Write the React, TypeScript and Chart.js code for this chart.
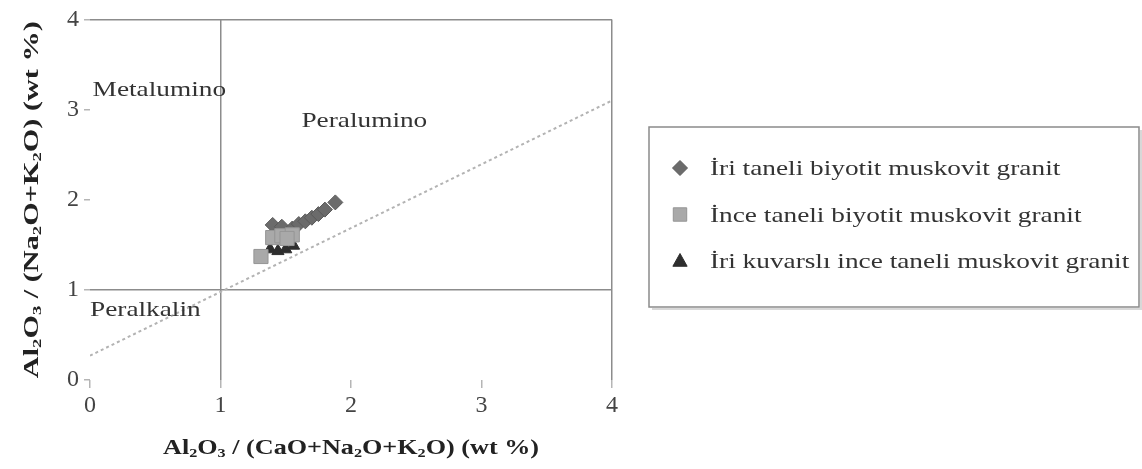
import React, { useEffect, useRef } from "react";
import { Chart, registerables } from "chart.js";

Chart.register(...registerables);

// ---- data ----
const diamondX = [1.40, 1.47, 1.55, 1.60, 1.65, 1.70, 1.75, 1.80, 1.88];
const diamondY = [1.72, 1.70, 1.68, 1.73, 1.76, 1.80, 1.84, 1.89, 1.97];
const squareX = [1.31, 1.40, 1.47, 1.55, 1.51];
const squareY = [1.37, 1.58, 1.60, 1.61, 1.57];
const triangleX = [1.38, 1.44, 1.50, 1.56];
const triangleY = [1.45, 1.43, 1.45, 1.49];
const refLineX = [0, 4];
const refLineY = [0.27, 3.1];
const axisTicks = [0, 1, 2, 3, 4];
const boxLines = [1, 4];
const seriesNames = [
  "İri taneli biyotit muskovit granit",
  "İnce taneli biyotit muskovit granit",
  "İri kuvarslı ince taneli muskovit granit",
];
const regionNames = ["Metalumino", "Peralumino", "Peralkalin"];
const regionX = [0.02, 1.62, 0.0];
const regionY = [3.23, 2.89, 0.79];

type Seg = [string, number];
const xTitle: Seg[] = [
  ["Al", 0], ["2", 1], ["O", 0], ["3", 1], [" / (CaO+Na", 0], ["2", 1],
  ["O+K", 0], ["2", 1], ["O) (wt %)", 0],
];
const yTitle: Seg[] = [
  ["Al", 0], ["2", 1], ["O", 0], ["3", 1], [" / (Na", 0], ["2", 1],
  ["O+K", 0], ["2", 1], ["O) (wt %)", 0],
];

const SERIF = "'Liberation Serif', 'Times New Roman', serif";
const STRETCH = 1.3;

function drawSegs(
  ctx: CanvasRenderingContext2D,
  segs: Seg[],
  x: number,
  y: number,
  size: number,
  bold: boolean,
  color: string,
  align: "left" | "center",
  rotate: boolean,
  targetW?: number
) {
  const w = bold ? "bold " : "";
  const big = `${w}${size}px ${SERIF}`;
  const small = `${w}${Math.round(size * 0.62)}px ${SERIF}`;
  let total = 0;
  for (const [t, s] of segs) {
    ctx.font = s ? small : big;
    total += ctx.measureText(t).width;
  }
  const sx = targetW ? targetW / total : STRETCH;
  ctx.save();
  ctx.translate(x, y);
  if (rotate) ctx.rotate(-Math.PI / 2);
  ctx.scale(sx, 1);
  ctx.fillStyle = color;
  ctx.textBaseline = "alphabetic";
  ctx.textAlign = "left";
  let cx = align === "center" ? -total / 2 : 0;
  const base = size * 0.34;
  for (const [t, s] of segs) {
    ctx.font = s ? small : big;
    ctx.fillText(t, cx, base + (s ? size * 0.12 : 0));
    cx += ctx.measureText(t).width;
  }
  ctx.restore();
}

function marker(ctx: CanvasRenderingContext2D, style: string, x: number, y: number, r: number) {
  ctx.beginPath();
  if (style === "rectRot") {
    ctx.moveTo(x, y - r);
    ctx.lineTo(x + r, y);
    ctx.lineTo(x, y + r);
    ctx.lineTo(x - r, y);
  } else if (style === "rect") {
    const h = r * Math.SQRT1_2;
    ctx.rect(x - h, y - h, 2 * h, 2 * h);
  } else {
    const h = r * 1.0;
    ctx.moveTo(x, y - h);
    ctx.lineTo(x + h * 0.95, y + h * 0.7);
    ctx.lineTo(x - h * 0.95, y + h * 0.7);
  }
  ctx.closePath();
  ctx.fill();
  ctx.stroke();
}

const decorPlugin = {
  id: "decor",
  afterDatasetsDraw(chart: any) {
    const ctx: CanvasRenderingContext2D = chart.ctx;
    const xs = chart.scales.x;
    const ys = chart.scales.y;
    const area = chart.chartArea;
    // region labels
    regionNames.forEach((n, i) => {
      drawSegs(ctx, [[n, 0]], xs.getPixelForValue(regionX[i]), ys.getPixelForValue(regionY[i]),
        21, false, "#333", "left", false);
    });
    // axis titles
    drawSegs(ctx, xTitle, (area.left + area.right) / 2, 447, 21, true, "#222", "center", false, 376);
    drawSegs(ctx, yTitle, 31, (area.top + area.bottom) / 2, 21, true, "#222", "center", true, 357);
    // legend
    const lx = 649, ly = 127, lw = 491, lh = 180;
    ctx.save();
    ctx.strokeStyle = "#d8d8d8";
    ctx.lineWidth = 2;
    ctx.beginPath();
    ctx.moveTo(lx + 3, ly + lh + 2);
    ctx.lineTo(lx + lw + 1, ly + lh + 2);
    ctx.lineTo(lx + lw + 1, ly + 3);
    ctx.stroke();
    ctx.strokeStyle = "#8a8a8a";
    ctx.lineWidth = 1.5;
    ctx.strokeRect(lx, ly, lw - 1, lh);
    const ds = chart.data.datasets.filter((d: any) => d.type !== "line");
    ds.forEach((d: any, i: number) => {
      const yy = 168 + i * 46.5;
      ctx.fillStyle = d.backgroundColor;
      ctx.strokeStyle = d.borderColor;
      ctx.lineWidth = 1;
      marker(ctx, d.pointStyle, 680, yy, d.pointStyle === "rect" ? 9.5 : 7.5);
      drawSegs(ctx, [[d.label, 0]], 710, yy, 21, false, "#333", "left", false);
    });
    ctx.restore();
  },
};

export default function App() {
  const ref = useRef<HTMLCanvasElement>(null);
  useEffect(() => {
    if (!ref.current) return;
    const toPts = (xa: number[], ya: number[]) => xa.map((x, i) => ({ x, y: ya[i] }));
    const boxColor = "#8c8c8c";
    const chart = new Chart(ref.current, {
      type: "scatter",
      data: {
        datasets: [
          {
            type: "line",
            label: "ref",
            data: toPts(refLineX, refLineY),
            borderColor: "#b3b3b3",
            borderWidth: 2,
            borderDash: [3, 3],
            pointRadius: 0,
            order: 5,
          } as any,
          {
            label: seriesNames[0],
            data: toPts(diamondX, diamondY),
            pointStyle: "rectRot",
            pointRadius: 7.5,
            backgroundColor: "#6b6b6b",
            borderColor: "#5a5a5a",
            borderWidth: 1,
            order: 3,
          },
          {
            label: seriesNames[1],
            data: toPts(squareX, squareY),
            pointStyle: "rect",
            pointRadius: 10,
            backgroundColor: "#a9a9a9",
            borderColor: "#959595",
            borderWidth: 1,
            order: 1,
          },
          {
            label: seriesNames[2],
            data: toPts(triangleX, triangleY),
            pointStyle: "triangle",
            pointRadius: 7,
            backgroundColor: "#2e2e2e",
            borderColor: "#2e2e2e",
            borderWidth: 1,
            order: 2,
          },
        ],
      },
      options: {
        animation: false,
        responsive: false,
        layout: { padding: { left: 0, right: 530, top: 17, bottom: 0 } },
        plugins: { legend: { display: false }, tooltip: { enabled: false } },
        scales: {
          x: {
            type: "linear",
            min: 0,
            max: 4,
            afterFit: (s: any) => { s.height = 89; },
            afterBuildTicks: (s: any) => { s.ticks = axisTicks.map((v) => ({ value: v })); },
            border: { display: false },
            grid: {
              color: (c: any) => (boxLines.includes(c.tick?.value) ? boxColor : "rgba(0,0,0,0)"),
              tickColor: "#b5b5b5",
              lineWidth: 1.5,
              tickLength: 8,
            },
            ticks: {
              padding: 3,
              color: "#444",
              font: { family: SERIF, size: 24 },
            },
          },
          y: {
            type: "linear",
            min: 0,
            max: 4,
            afterFit: (s: any) => { s.width = 90; },
            afterBuildTicks: (s: any) => { s.ticks = axisTicks.map((v) => ({ value: v })); },
            border: { display: false },
            grid: {
              color: (c: any) => (boxLines.includes(c.tick?.value) ? boxColor : "rgba(0,0,0,0)"),
              tickColor: "#b5b5b5",
              lineWidth: 1.5,
              tickLength: 6,
            },
            ticks: {
              padding: 5,
              color: "#444",
              font: { family: SERIF, size: 24 },
            },
          },
        },
      },
      plugins: [decorPlugin],
    });
    return () => chart.destroy();
  }, []);
  return (
    <div style={{ position: "absolute", left: 0, top: 0, width: 1142, height: 469, background: "#fff" }}>
      <canvas ref={ref} width={1142} height={469} style={{ display: "block" }} />
    </div>
  );
}
